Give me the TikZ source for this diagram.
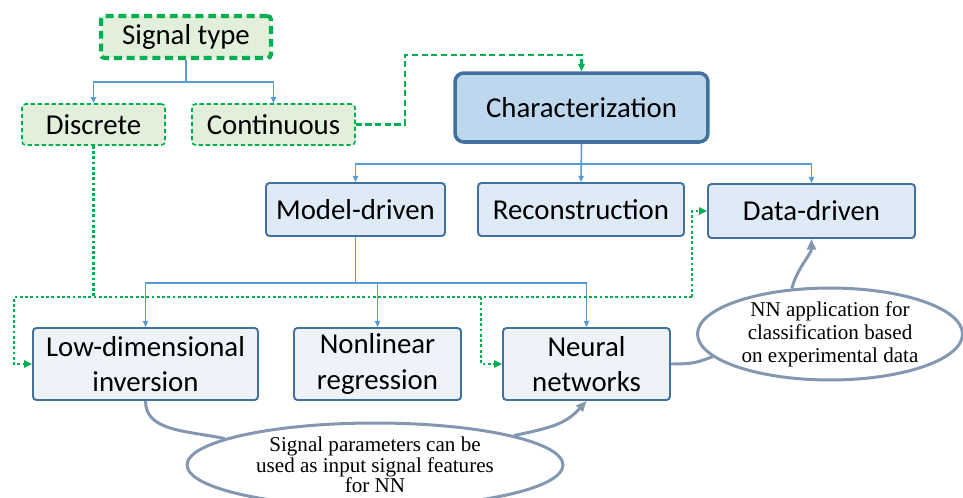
\documentclass[tikz,border=0pt]{standalone}
\usepackage{fontspec}
\setmainfont{Carlito}
\newfontfamily\notefont{Liberation Serif}
\usetikzlibrary{arrows.meta,shapes.geometric}
\definecolor{boxblue}{RGB}{65,113,156}
\definecolor{linkblue}{RGB}{91,155,213}
\definecolor{headfill}{RGB}{189,215,238}
\definecolor{midfill}{RGB}{222,235,247}
\definecolor{lowfill}{RGB}{238,243,250}
\definecolor{sgreen}{RGB}{0,176,80}
\definecolor{greenfill}{RGB}{226,239,218}
\definecolor{notegray}{RGB}{132,151,176}

\begin{document}
\begin{tikzpicture}[x=0.02cm,y=-0.02cm,
  every node/.style={font=\fontsize{16.4}{20}\selectfont,align=center,inner sep=0pt},
  typebox/.style={draw=sgreen,fill=greenfill,rounded corners=2pt,line width=0.9pt,dash pattern=on 2.5pt off 1.5pt},
  cbox/.style={draw=boxblue,fill=midfill,rounded corners=2pt,line width=1.1pt},
  lowbox/.style={cbox,fill=lowfill},
  note/.style={ellipse,draw=notegray,fill=white,line width=1.7pt,font=\notefont\fontsize{12}{11.8}\selectfont},
  link/.style={draw=linkblue,line width=0.9pt,-{Triangle[length=3.5pt,width=3pt]}},
  gdash/.style={draw=sgreen,line width=1.3pt,dash pattern=on 3.5pt off 2pt,-{Triangle[length=4pt,width=3.5pt]}},
  gdot/.style={draw=sgreen,line width=1.6pt,dash pattern=on 1.6pt off 1.4pt,-{Triangle[length=4.5pt,width=4pt]}},
  notelink/.style={draw=notegray,line width=1.7pt}]
  \clip (0,0) rectangle (963,497);

  % signal type branch
  \node[typebox,line width=2.3pt,dash pattern=on 4.5pt off 2.8pt,minimum width=3.4cm,minimum height=0.84cm] (sig) at (186,37) {Signal type};
  \node[typebox,minimum width=2.86cm,minimum height=0.82cm] (disc) at (93.5,124.5) {Discrete};
  \node[typebox,minimum width=3.26cm,minimum height=0.82cm] (cont) at (273.5,124.5) {Continuous};

  % characterization tree
  \node[cbox,fill=headfill,line width=2pt,rounded corners=5pt,minimum width=5.06cm,minimum height=1.38cm] (char) at (581.5,107.5) {Characterization};
  \node[cbox,minimum width=3.58cm,minimum height=1.06cm] (model) at (355.5,209.5) {Model-driven};
  \node[cbox,minimum width=4.12cm,minimum height=1.06cm] (recon) at (581,209.5) {Reconstruction};
  \node[cbox,minimum width=4.14cm,minimum height=1.08cm] (data) at (811.5,211) {Data-driven};
  \node[lowbox,minimum width=4.5cm,minimum height=1.44cm] (lowd) at (145.5,364) {Low-dimensional\\inversion};
  \node[lowbox,minimum width=3.34cm,minimum height=1.44cm] (nonl) at (377.5,364) {Nonlinear\\regression};
  \node[lowbox,minimum width=3.34cm,minimum height=1.44cm] (neur) at (586.5,364) {Neural\\networks};

  % notes
  \node[note,font=\notefont\fontsize{12}{13}\selectfont,minimum width=5.3cm,minimum height=1.68cm] (note1) at (830,334) {NN application for\\classification based\\on experimental data};
  \node[note,minimum width=7.52cm,minimum height=1.68cm] (note2) at (375,465) {Signal parameters can be\\used as input signal features\\for NN};

  % tree links
  \draw[link] (sig.south) -- ++(0,22) -| (disc.north);
  \draw[link] (sig.south) -- ++(0,22) -| (cont.north);
  \draw[link] (char.south) -- ++(0,20) -| (model.north);
  \draw[link] (char.south) -- (recon.north);
  \draw[link] (char.south) -- ++(0,20) -| (data.north);
  \draw[link] (model.south) -- ++(0,46) -| (lowd.north);
  \draw[link] (model.south) -- ++(0,46) -| (nonl.north);
  \draw[link] (model.south) -- ++(0,46) -| (neur.north);

  % green signal paths
  \draw[gdash] (cont.east) -| (405,55) -| (char.north);
  \coordinate (busL) at (14,297);
  \coordinate (busN) at (481,297);
  \coordinate (busR) at (692,297);
  \draw[gdot,-] (disc.south) -- (disc.south |- busL);
  \draw[gdot] (busR) -- (busL) |- (lowd.west);
  \draw[gdot] (busN) |- (neur.west);
  \draw[gdot] (busR) |- (data.west);

  % note links
  \draw[notelink] (neur.east) .. controls +(25,0) and +(-15,5) .. (note1.191);
  \draw[notelink,-{Triangle[length=6pt,width=5pt]}] (note1.130) .. controls +(5,-20) and +(0,15) .. (data.south);
  \draw[notelink] (lowd.south) .. controls +(0,30) and +(-40,-8) .. (note2.170);
  \draw[notelink,-{Triangle[length=6pt,width=5pt]}] (note2.12) .. controls +(40,-8) and +(-20,22) .. (neur.south);
\end{tikzpicture}
\end{document}
